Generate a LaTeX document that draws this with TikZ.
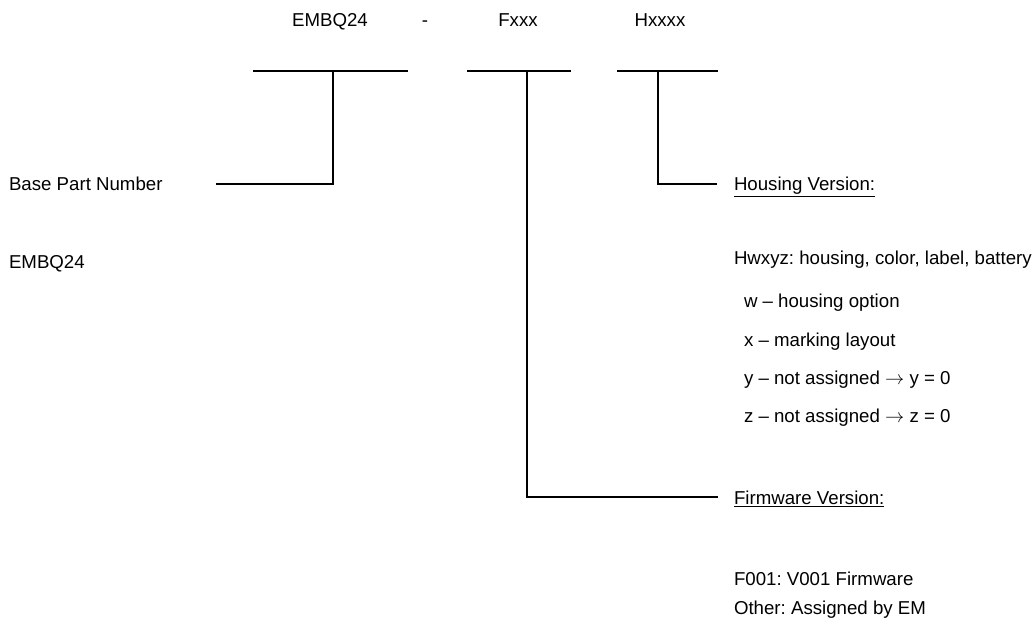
\documentclass[tikz,border=0pt]{standalone}
\usepackage{fontspec}
\setmainfont{Liberation Sans}
\frenchspacing

\tikzset{every picture/.style={line width=1.5pt}}
\tikzset{lbl/.style={anchor=base west,inner sep=0pt,font=\fontsize{14}{17}\selectfont}}

\begin{document}
\begin{tikzpicture}[x=0.75pt,y=0.75pt,yscale=-1,xscale=1]
        \useasboundingbox (0,0) rectangle (1035,627);

        % Text Node
        \node [lbl,anchor=base] (partno) at (330,27) {EMBQ24};
        % Text Node
        \node [lbl,anchor=base] (dash) at (425,27) {-};
        % Text Node
        \node [lbl,anchor=base] (fwcode) at (518,27) {Fxxx};
        % Text Node
        \node [lbl,anchor=base] (hscode) at (660,27) {Hxxxx};

        %Straight Lines
        \draw    (253,71) -- (408,71) ;
        \draw    (467,71) -- (571,71) ;
        \draw    (617,71) -- (718,71) ;

        \coordinate (basebar) at (333,71);
        \coordinate (fwbar) at (527,71);
        \coordinate (hsbar) at (658,71);
        \coordinate (baseend) at (216,184);
        \coordinate (fwend) at (718,497);
        \coordinate (hsend) at (717,184);

        %Straight Lines
        \draw    (basebar) |- (baseend) ;
        \draw    (hsbar) |- (hsend) ;
        \draw    (fwbar) |- (fwend) ;

        % Text Node
        \node [lbl] (base) at (8,191) {Base Part Number};
        % Text Node
        \node [lbl] (basenum) at (8,269) {EMBQ24};

        % Text Node
        \node [lbl] (hshead) at (733,191) {\underline{Housing Version:}};
        % Text Node
        \node [lbl] (hsfmt) at (733,265) {Hwxyz: housing, color, label, battery};
        % Text Node
        \node [lbl] (hsw) at (743,308) {w – housing option};
        % Text Node
        \node [lbl] (hsx) at (743,346) {x – marking layout};
        % Text Node
        \node [lbl] (hsy) at (743,384) {y – not assigned $\rightarrow$ y = 0};
        % Text Node
        \node [lbl] (hsz) at (743,422) {z – not assigned $\rightarrow$ z = 0};

        % Text Node
        \node [lbl] (fwhead) at (733,504) {\underline{Firmware Version:}};
        % Text Node
        \node [lbl] (fwone) at (733,585) {F001: V001 Firmware};
        % Text Node
        \node [lbl] (fwother) at (733,614) {Other: Assigned by EM};
\end{tikzpicture}
\end{document}
